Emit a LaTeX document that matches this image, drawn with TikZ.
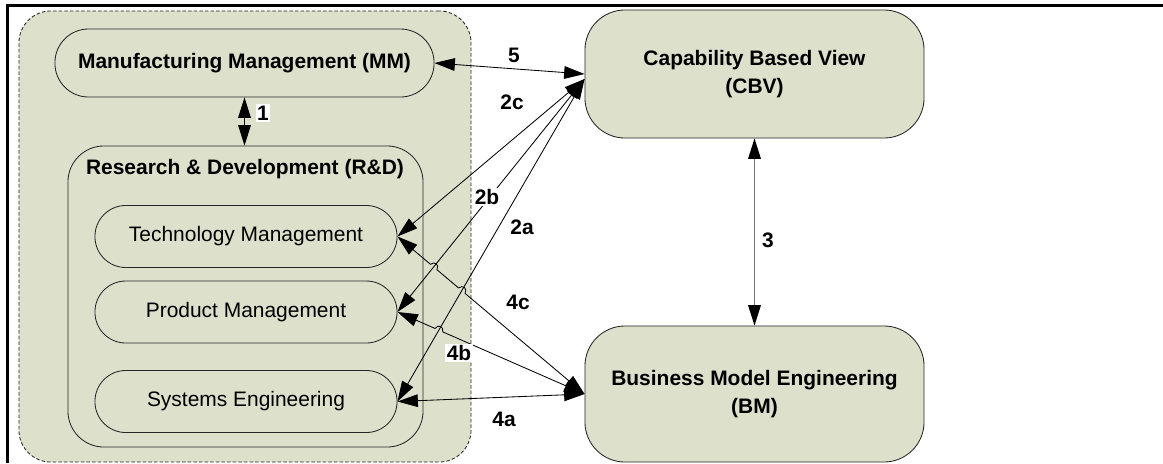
\documentclass[tikz,border=0pt]{standalone}
\usepackage{fontspec}
\setmainfont{Liberation Sans}
\usetikzlibrary{arrows.meta}
\usetikzlibrary{calc}

\definecolor{boxfill}{RGB}{221,224,203}

\begin{document}
\begin{tikzpicture}[x=0.025cm, y=-0.025cm,
		font=\fontsize{14.9}{19.9}\selectfont,
		>={Triangle[length=14.5pt,width=9pt]},
		box/.style={draw=black!85, fill=boxfill, line width=0.6pt, align=center, inner sep=0pt},
		pill/.style={box, minimum width=7.55cm, minimum height=1.55cm, rounded corners=0.77cm},
		link/.style={<->, line width=0.6pt},
		lbl/.style={font=\fontsize{14.9}{19.9}\selectfont\bfseries, inner sep=1pt}]
		\useasboundingbox (0,0) rectangle (1163,463);
		\draw[line width=1.5pt] (7.5,463) -- (7.5,5.5) -- (1163,5.5);

		%left group: MM on top, R&D with its three parts below
		\node[box, dashed, dash pattern=on 2.5pt off 1.5pt, draw=black!85, minimum width=11.3cm, minimum height=11.275cm, rounded corners=0.8cm] (grp) at (245,236.5) {};
		\node[box, minimum width=9.475cm, minimum height=1.7cm, rounded corners=0.84cm, font=\fontsize{14.9}{19.9}\selectfont\bfseries] (MM) at (244.5,63) {Manufacturing Management (MM)};
		\node[box, minimum width=8.875cm, minimum height=7.525cm, rounded corners=0.9cm] (RD) at (245.5,296.5) {};
		\node[lbl] (RDt) at (245,169) {Research \& Development (R\&D)};
		\node[pill] (TM) at (246,236.5) {Technology Management};
		\node[pill] (PM) at (246,312) {Product Management};
		\node[pill] (SE) at (246,401.5) {Systems Engineering};

		%right column
		\node[box, minimum width=8.475cm, minimum height=3.2cm, rounded corners=1cm, font=\fontsize{14.9}{19.9}\selectfont\bfseries] (CBV) at (754.5,74) {Capability Based View\\(CBV)};
		\node[box, minimum width=8.475cm, minimum height=3.4cm, rounded corners=1cm, font=\fontsize{14.9}{19.9}\selectfont\bfseries] (BM) at (754.5,394) {Business Model Engineering\\(BM)};

		\coordinate (cin) at ($(CBV.west)+(0,5)$);
		\coordinate (bin) at (BM.west);
		\coordinate (te) at (TM.east);
		\coordinate (pe) at (PM.east);
		\coordinate (se) at (SE.east);

		%crossings where 4c and 4b jump over 2b and 2a
		\coordinate (h1) at (intersection of te--bin and cin--pe);
		\coordinate (h2) at (intersection of te--bin and cin--se);
		\coordinate (h3) at (intersection of pe--bin and cin--se);

		\draw[link] (MM.south) -- (MM.south |- RD.north);
		\draw[link] (MM.east) -- (CBV.west);
		\draw[link] (cin) -- (te);
		\draw[link] (cin) -- (pe);
		\draw[link] (cin) -- (se);
		\draw[link] (te) -- ($(h1)!3pt!(te)$) .. controls ($(h1)!4.5pt!-60:(te)$) and ($(h1)!4.5pt!60:(bin)$) .. ($(h1)!3pt!(bin)$)
			-- ($(h2)!3pt!(te)$) .. controls ($(h2)!4.5pt!-60:(te)$) and ($(h2)!4.5pt!60:(bin)$) .. ($(h2)!3pt!(bin)$) -- (bin);
		\draw[link] (pe) -- ($(h3)!3pt!(pe)$) .. controls ($(h3)!4.5pt!-60:(pe)$) and ($(h3)!4.5pt!60:(bin)$) .. ($(h3)!3pt!(bin)$) -- (bin);
		\draw[link] (se) -- (bin);
		\draw[black!55, line width=0.8pt, {Triangle[length=14.5pt,width=9pt,color=black]}-{Triangle[length=14.5pt,width=9pt,color=black]}] (CBV.south) -- (BM.north);

		%labels
		\node[lbl, fill=white] (l1) at (263,113) {1};
		\node[lbl] (l5) at (514,55) {5};
		\node[lbl] (l2c) at (512,102) {2c};
		\node[lbl, fill=white] (l2b) at (487,197) {2b};
		\node[lbl] (l2a) at (522,227) {2a};
		\node[lbl] (l4c) at (518,302) {4c};
		\node[lbl, fill=white] (l4b) at (459,353) {4b};
		\node[lbl] (l4a) at (504,419) {4a};
		\node[lbl] (l3) at (768,240) {3};
	\end{tikzpicture}
\end{document}
